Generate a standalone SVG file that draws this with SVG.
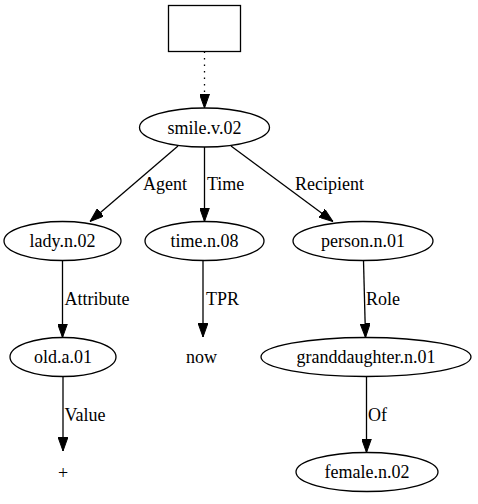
<svg xmlns="http://www.w3.org/2000/svg" width="478" height="504" viewBox="0 0 478 504">
<style>
.n ellipse, .n rect { fill: #fff; stroke: #000; stroke-width: 1.3; }
text { font-family: "Liberation Serif", "DejaVu Serif", "Noto Serif", serif; font-size: 18px; fill: #000; }
.n text { text-anchor: middle; }
.e path { fill: none; stroke: #000; stroke-width: 1.3; marker-end: url(#arr); }
</style>
<defs>
<marker id="arr" markerUnits="userSpaceOnUse" viewBox="0 0 14 10" markerWidth="14" markerHeight="10" refX="14" refY="5" orient="auto">
<path d="M0,0 L14,5 L0,10 Z" fill="#000" stroke="#000" stroke-width="1"/>
</marker>
</defs>
<rect width="478" height="504" fill="#fff"/>
<g id="edges" class="e">
<path d="M204.5,51.5 L204.5,108" stroke-dasharray="1.5,5"/>
<path d="M178,146 L90,221.5"/>
<path d="M204.5,147 L204.5,221.5"/>
<path d="M231,146 L333,221.5"/>
<path d="M62.5,260.5 L62.5,337.5"/>
<path d="M203,260.5 L203,337"/>
<path d="M363.5,260.5 L365.5,337.5"/>
<path d="M63,376.5 L63,451"/>
<path d="M366.5,376.5 L366.5,452.5"/>
<text x="143" y="190">Agent</text>
<text x="207" y="190">Time</text>
<text x="295" y="190">Recipient</text>
<text x="64.5" y="305">Attribute</text>
<text x="206" y="305">TPR</text>
<text x="366" y="305">Role</text>
<text x="64.5" y="421">Value</text>
<text x="368" y="421">Of</text>
</g>
<g id="root" class="n"><rect x="168.5" y="5.5" width="72" height="46"/></g>
<g id="smile" class="n"><ellipse cx="204.5" cy="127.5" rx="65" ry="19.5"/><text x="204.5" y="133.5">smile.v.02</text></g>
<g id="lady" class="n"><ellipse cx="62.5" cy="241" rx="58.5" ry="19.5"/><text x="62.5" y="247">lady.n.02</text></g>
<g id="time" class="n"><ellipse cx="204.5" cy="241" rx="59.5" ry="19.5"/><text x="204.5" y="247">time.n.08</text></g>
<g id="person" class="n"><ellipse cx="363" cy="241" rx="70" ry="19.5"/><text x="363" y="247">person.n.01</text></g>
<g id="old" class="n"><ellipse cx="63" cy="357" rx="53" ry="19.5"/><text x="63" y="363">old.a.01</text></g>
<g id="now" class="n"><text x="201.5" y="363">now</text></g>
<g id="granddaughter" class="n"><ellipse cx="366" cy="357" rx="105" ry="19.5"/><text x="366" y="363">granddaughter.n.01</text></g>
<g id="plus" class="n"><text x="63" y="479">+</text></g>
<g id="female" class="n"><ellipse cx="367" cy="472" rx="71" ry="19.5"/><text x="367" y="478">female.n.02</text></g>
</svg>
